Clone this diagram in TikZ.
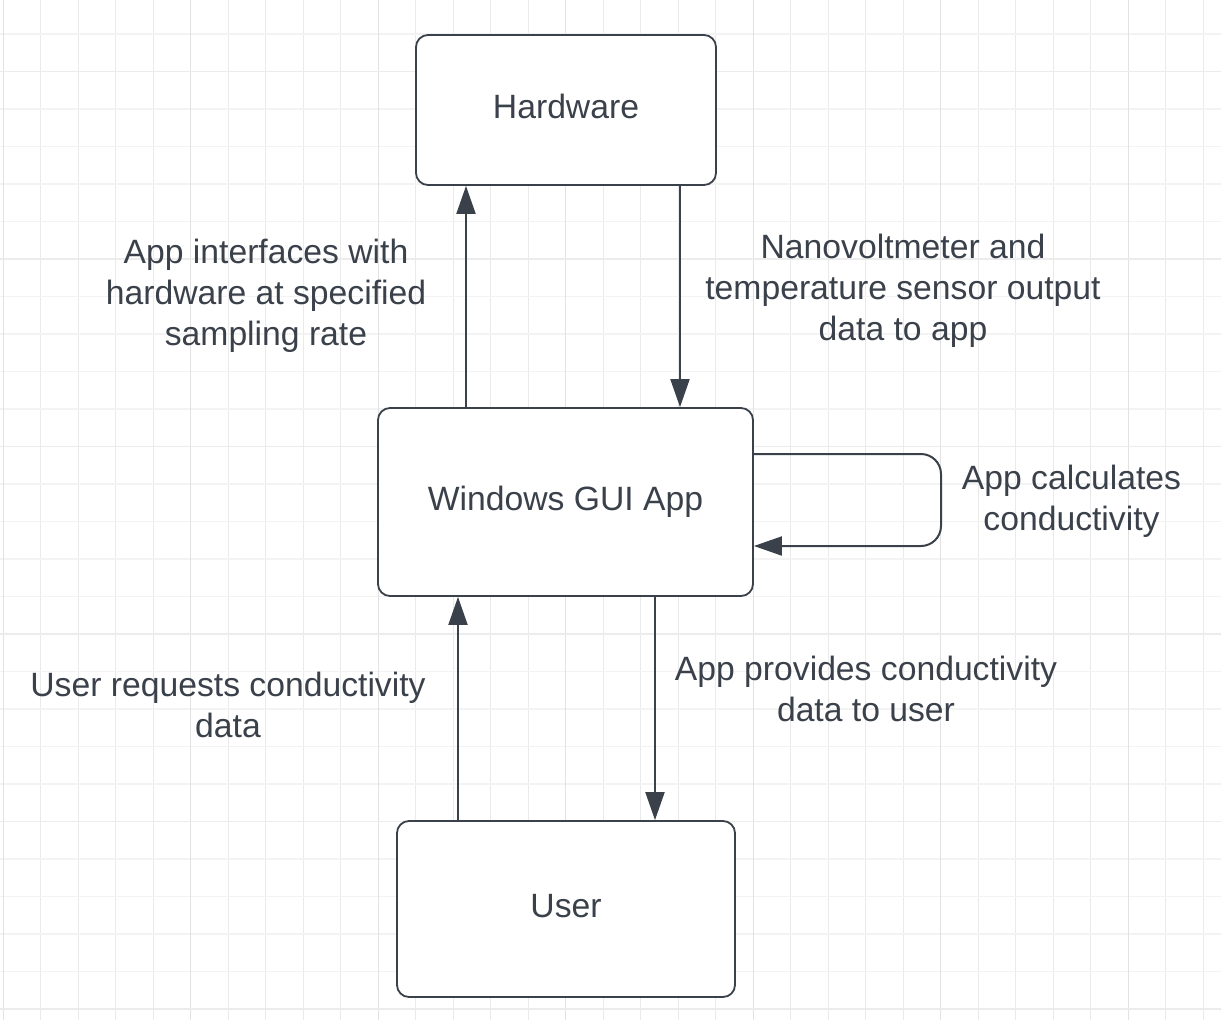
\documentclass[tikz,border=0pt]{standalone}
\usepackage{fontspec}
\setmainfont{Liberation Sans}
\usetikzlibrary{arrows.meta}
\definecolor{ink}{RGB}{58,65,74}
\definecolor{gridminorv}{RGB}{234,234,234}
\definecolor{gridminorh}{RGB}{243,243,243}
\definecolor{gridmajorv}{RGB}{226,226,226}
\definecolor{gridmajorh}{RGB}{236,236,236}
\begin{document}
\begin{tikzpicture}[x=1pt,y=-1pt,
  box/.style={draw=ink, line width=1.8pt, rounded corners=12pt, fill=white, text=ink,
    font=\fontsize{33.7}{41}\selectfont, text height=24pt, text depth=8pt, inner sep=0pt},
  lbl/.style={text=ink, font=\fontsize{33.7}{41}\selectfont, align=center, inner sep=0pt},
  conn/.style={draw=ink, line width=2pt, -{Triangle[length=28pt,width=19pt]}}]
\useasboundingbox (0,0) rectangle (1221,1020);
\fill[white] (0,0) rectangle (1221,1020);
% grid
\foreach \k in {0,...,32} {
  \draw[gridminorv, line width=1pt] ({3.3+37.5*\k},0) -- ({3.3+37.5*\k},1020);
}
\foreach \k in {1,...,27} {
  \draw[gridminorh, line width=1.2pt] (0,{-3.6+37.5*\k}) -- (1221,{-3.6+37.5*\k});
}
\foreach \k in {0,5,...,30} {
  \draw[gridmajorv, line width=1pt] ({3.3+37.5*\k},0) -- ({3.3+37.5*\k},1020);
}
\foreach \k in {2,7,...,27} {
  \draw[gridmajorh, line width=1.2pt] (0,{-3.6+37.5*\k}) -- (1221,{-3.6+37.5*\k});
}
% boxes
\node[box, minimum width=300pt, minimum height=150pt] (hw) at (566,110) {Hardware};
\node[box, minimum width=375pt, minimum height=188pt] (app) at (565.5,502) {Windows GUI App};
\node[box, minimum width=338pt, minimum height=176pt] (user) at (566,909) {User};
% x positions of connectors
\coordinate (xa) at (466,0);
\coordinate (xb) at (680,0);
\coordinate (xc) at (458,0);
\coordinate (xd) at (655,0);
\coordinate (loopr) at (941,0);
\coordinate (loopout) at ([yshift=48pt]app.east);
\coordinate (loopin) at ([yshift=-44pt]app.east);
% connectors
\draw[conn] (xa |- app.north) -- (xa |- hw.south);
\draw[conn] (xb |- hw.south) -- (xb |- app.north);
\draw[conn] (xc |- user.north) -- (xc |- app.south);
\draw[conn] (xd |- app.south) -- (xd |- user.north);
\draw[conn, rounded corners=20pt] (loopout) -- (loopr |- loopout)
  -- (loopr |- loopin) -- (loopin);
% labels
\node[lbl] (l1) at (266,296) {\strut App interfaces with\\\strut hardware at specified\\\strut sampling rate};
\node[lbl] (l2) at (903,291.5) {\strut Nanovoltmeter and\\\strut temperature sensor output\\\strut data to app};
\node[lbl] (l3) at (1071.5,501.5) {\strut App calculates\\\strut conductivity};
\node[lbl] (l4) at (228,709) {\strut User requests conductivity\\\strut data};
\node[lbl] (l5) at (866,692.5) {\strut App provides conductivity\\\strut data to user};
\end{tikzpicture}
\end{document}
